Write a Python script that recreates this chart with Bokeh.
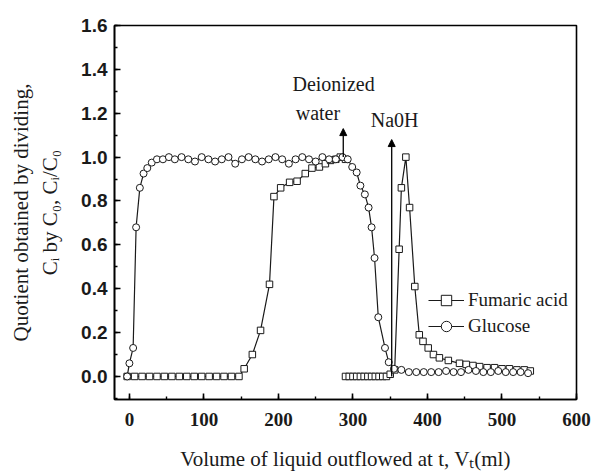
from bokeh.plotting import figure
from bokeh.models import (Range1d, SingleIntervalTicker, PrintfTickFormatter, Legend, LegendItem,
                          Arrow, NormalHead, Label)
from bokeh.embed import file_html
from bokeh.resources import INLINE

# Glucose (circles)
glucose_x = [-3, 0, 5, 9, 14, 19, 24, 30, 37, 45, 53, 61, 70, 79, 88, 97, 106, 115, 124, 133, 142,
             151, 160, 169, 178, 187, 196, 205, 214, 223, 232, 241, 250, 259, 268, 277, 286, 293,
             299, 305, 310, 316, 321, 325, 329, 334, 343, 348, 355, 365, 375, 385, 395, 405, 415,
             425, 435, 445, 455, 465, 475, 485, 495, 505, 515, 525, 535]
glucose_y = [0.0, 0.06, 0.13, 0.68, 0.86, 0.925, 0.95, 0.975, 0.99, 0.99, 1.0, 0.99, 1.0, 0.99, 0.98,
             1.0, 0.99, 0.98, 0.99, 1.0, 0.97, 0.99, 1.0, 0.99, 0.98, 0.99, 1.0, 0.99, 0.97, 0.99,
             1.0, 0.99, 0.98, 1.0, 0.99, 0.99, 1.0, 0.99, 0.955, 0.93, 0.87, 0.83, 0.77, 0.68, 0.54,
             0.27, 0.13, 0.065, 0.035, 0.03, 0.02, 0.02, 0.02, 0.02, 0.02, 0.025, 0.02, 0.02, 0.03,
             0.025, 0.02, 0.02, 0.025, 0.02, 0.02, 0.02, 0.015]

# Fumaric acid (squares), loading phase
fumaric_x1 = [-3, 7, 17, 27, 37, 47, 57, 67, 77, 87, 97, 107, 117, 127, 137, 147, 154, 165, 176, 188,
              194, 203, 215, 225, 236, 245, 255, 263, 270, 277, 283, 290]
fumaric_y1 = [0.0, 0.0, 0.0, 0.0, 0.0, 0.0, 0.0, 0.0, 0.0, 0.0, 0.0, 0.0, 0.0, 0.0, 0.0, 0.0,
              0.035, 0.10, 0.21, 0.42, 0.82, 0.86, 0.885, 0.89, 0.925, 0.95, 0.955, 0.97, 0.985,
              0.99, 1.0, 0.99]
# Fumaric acid, water / NaOH phase
fumaric_x2 = [290, 295, 300, 305, 310, 315, 320, 325, 330, 335, 340, 345, 350, 356, 362, 365, 371,
              376, 383, 389, 394, 401, 408, 416, 428, 443, 452, 461, 470, 480, 490, 500, 510, 520,
              530, 538]
fumaric_y2 = [0.0, 0.0, 0.0, 0.0, 0.0, 0.0, 0.0, 0.0, 0.0, 0.0, 0.0, 0.0, 0.01, 0.03, 0.58, 0.86,
              1.0, 0.77, 0.41, 0.19, 0.16, 0.13, 0.10, 0.085, 0.073, 0.06, 0.055, 0.05, 0.045, 0.04,
              0.04, 0.035, 0.035, 0.03, 0.03, 0.025]

# annotation positions
water_arrow_x, water_arrow_y0, water_arrow_y1 = 287, 1.0, 1.13
naoh_arrow_x, naoh_arrow_y0, naoh_arrow_y1 = 352, 0.0, 1.08

SERIF = "Liberation Serif"
SANS = "Liberation Sans"
INK = "#1a1a1a"

p = figure(width=596, height=474, output_backend="svg", toolbar_location=None,
           x_range=Range1d(-20, 600), y_range=Range1d(-0.105, 1.6),
           min_border_left=114, min_border_right=20, min_border_top=25, min_border_bottom=75)
p.xgrid.visible = False
p.ygrid.visible = False
p.outline_line_color = "black"
p.outline_line_width = 1.6
p.background_fill_color = "white"
p.border_fill_color = "white"

for ax in (p.xaxis[0], p.yaxis[0]):
    ax.axis_line_width = 1.6
    ax.major_tick_in = 6
    ax.major_tick_out = 0
    ax.minor_tick_in = 3
    ax.minor_tick_out = 0
    ax.major_tick_line_width = 1.6
    ax.minor_tick_line_width = 1.4
    ax.axis_label_text_font = SERIF
    ax.axis_label_text_font_style = "normal"
    ax.axis_label_text_color = INK
    ax.major_label_text_color = INK

p.xaxis.ticker = SingleIntervalTicker(interval=100, num_minor_ticks=2)
p.yaxis.ticker = SingleIntervalTicker(interval=0.2, num_minor_ticks=2)
p.yaxis.formatter = PrintfTickFormatter(format="%.1f")
p.xaxis.major_label_text_font = SERIF
p.xaxis.major_label_text_font_style = "bold"
p.xaxis.major_label_text_font_size = "19px"
p.yaxis.major_label_text_font = SANS
p.yaxis.major_label_text_font_style = "bold"
p.yaxis.major_label_text_font_size = "19px"
p.xaxis.major_label_standoff = 13
p.yaxis.major_label_standoff = 7
p.xaxis.axis_label = "Volume of liquid outflowed at t, V\u209c(ml)"
p.yaxis.axis_label = "Quotient obtained by dividing,\nC\u1d62 by C\u2080, C\u1d62/C\u2080"
p.xaxis.axis_label_text_font_size = "21px"
p.yaxis.axis_label_text_font_size = "21px"
p.xaxis.axis_label_standoff = 18
p.yaxis.axis_label_standoff = 16

lw = 1.2
fl1 = p.line(fumaric_x1, fumaric_y1, line_color=INK, line_width=lw)
fs1 = p.scatter(fumaric_x1, fumaric_y1, marker="square", size=6.5, fill_color="white",
                line_color=INK, line_width=1)
fl2 = p.line(fumaric_x2, fumaric_y2, line_color=INK, line_width=lw)
fs2 = p.scatter(fumaric_x2, fumaric_y2, marker="square", size=6.5, fill_color="white",
                line_color=INK, line_width=1)
gl = p.line(glucose_x, glucose_y, line_color=INK, line_width=lw)
gs = p.scatter(glucose_x, glucose_y, marker="circle", size=7, fill_color="white",
               line_color=INK, line_width=1)

p.add_layout(Arrow(end=NormalHead(size=7, fill_color="black", line_color="black"),
                   x_start=water_arrow_x, y_start=water_arrow_y0,
                   x_end=water_arrow_x, y_end=water_arrow_y1, line_width=1.3))
p.add_layout(Arrow(end=NormalHead(size=7, fill_color="black", line_color="black"),
                   x_start=naoh_arrow_x, y_start=naoh_arrow_y0,
                   x_end=naoh_arrow_x, y_end=naoh_arrow_y1, line_width=1.3))

for txt, x, y in (("Deionized", 274, 1.335), ("water", 253, 1.2), ("Na0H", 356, 1.17)):
    p.add_layout(Label(x=x, y=y, text=txt, text_align="center", text_baseline="middle",
                       text_font=SERIF, text_font_size="20px", text_color=INK))

legend = Legend(items=[LegendItem(label="Fumaric acid", renderers=[fl1, fs1]),
                       LegendItem(label="Glucose", renderers=[gl, gs])],
                location=(314, 60), orientation="vertical",
                background_fill_alpha=0, border_line_alpha=0,
                glyph_width=36, glyph_height=26, label_height=26, label_standoff=4,
                spacing=0, padding=0, margin=0,
                label_text_font=SERIF, label_text_font_size="19px", label_text_color=INK)
p.add_layout(legend)

open("out.html", "w").write(file_html(p, INLINE))
